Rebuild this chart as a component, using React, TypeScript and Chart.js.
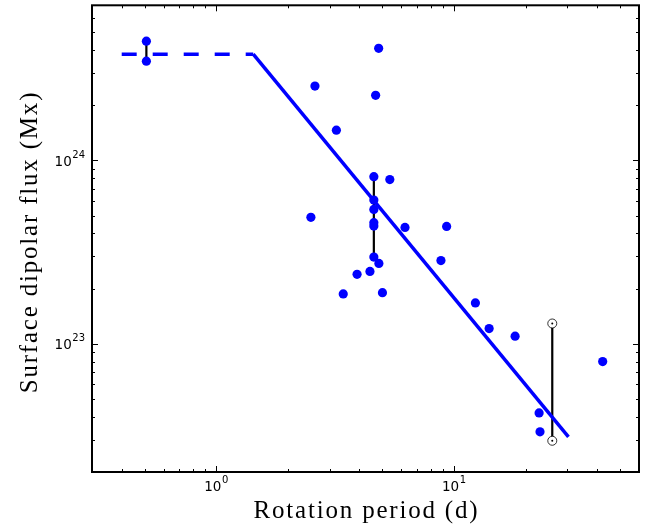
import { useEffect, useRef } from "react";
import { Chart, registerables } from "chart.js";

Chart.register(...registerables);

// Stars: rotation period (d) vs surface dipolar flux (Mx)
const periods = [
  0.508, 0.508, 4.82, 4.68, 2.6, 3.2, 4.6, 5.37, 4.6, 4.6, 4.6, 4.6, 2.5, 6.22,
  9.31, 4.6, 4.83, 8.81, 4.43, 3.91, 3.42, 5.0, 12.3, 14.05, 18.07, 42.2, 22.8, 23.0,
];
const fluxes = [
  4.46e24, 3.47e24, 4.08e24, 2.26e24, 2.54e24, 1.46e24, 8.15e23, 7.85e23, 6.07e23,
  5.4e23, 4.57e23, 4.38e23, 4.89e23, 4.31e23, 4.36e23, 2.97e23, 2.74e23, 2.84e23,
  2.48e23, 2.39e23, 1.87e23, 1.9e23, 1.67e23, 1.21e23, 1.1e23, 8.0e22, 4.2e22, 3.31e22,
];

// Variability ranges (vertical black bars)
const barPeriods = [0.508, 4.6, 25.9];
const barLow = [3.47e24, 2.97e23, 2.96e22];
const barHigh = [4.46e24, 8.15e23, 1.29e23];

// Sun (cycle min / max)
const sunPeriods = [25.9, 25.9];
const sunFluxes = [1.29e23, 2.96e22];

// Saturated branch (dashed) and power-law fit (solid)
const satPeriods = [0.4, 1.43];
const satFluxes = [3.79e24, 3.79e24];
const fitPeriods = [1.43, 30.3];
const fitFluxes = [3.79e24, 3.11e22];

const xTickValues = [1, 10];
const xTickExponents = ["0", "1"];
const yTickValues = [1e23, 1e24];
const yTickExponents = ["23", "24"];
const tickBase = "10";

const xTitle = "Rotation period (d)";
const yTitle = "Surface dipolar flux (Mx)";

const xMin = 0.3;
const xMax = 60;
const yMin = 2e22;
const yMax = 7e24;

const BASE_FONT = "13.5px 'DejaVu Sans'";
const EXP_FONT = "10px 'DejaVu Sans'";
const TITLE_FONT = "25px 'Liberation Serif'";

const frameTicks = {
  id: "frameTicks",
  afterDatasetsDraw(chart: any) {
    const { ctx, chartArea } = chart;
    const { left, right, top, bottom } = chartArea;
    const xs = chart.scales.x;
    const ys = chart.scales.y;
    ctx.save();
    ctx.strokeStyle = "#000";
    ctx.lineWidth = 1;
    const collect = (min: number, max: number) => {
      const out: { v: number; major: boolean }[] = [];
      for (let d = Math.floor(Math.log10(min)); d <= Math.ceil(Math.log10(max)); d++) {
        for (let m = 1; m <= 9; m++) {
          const v = m * Math.pow(10, d);
          if (v >= min * 1.0001 && v <= max * 0.9999) out.push({ v, major: m === 1 });
        }
      }
      return out;
    };
    ctx.beginPath();
    for (const t of collect(xMin, xMax)) {
      const px = Math.round(xs.getPixelForValue(t.v)) + 0.5;
      const len = t.major ? 6 : 3;
      ctx.moveTo(px, bottom);
      ctx.lineTo(px, bottom - len);
      ctx.moveTo(px, top);
      ctx.lineTo(px, top + len);
    }
    for (const t of collect(yMin, yMax)) {
      const py = Math.round(ys.getPixelForValue(t.v)) + 0.5;
      const len = t.major ? 6 : 3;
      ctx.moveTo(left, py);
      ctx.lineTo(left + len, py);
      ctx.moveTo(right, py);
      ctx.lineTo(right - len, py);
    }
    ctx.stroke();
    ctx.lineWidth = 2;
    ctx.strokeRect(left, top, right - left, bottom - top);

    // tick labels: "10" with raised exponent
    ctx.fillStyle = "#000";
    ctx.textBaseline = "alphabetic";
    ctx.textAlign = "left";
    const drawLabel = (exp: string, anchorX: number, baseY: number, mode: "center" | "right") => {
      ctx.font = BASE_FONT;
      const wb = ctx.measureText(tickBase).width;
      ctx.font = EXP_FONT;
      const we = ctx.measureText(exp).width;
      const total = wb + we + 0.5;
      const x0 = mode === "center" ? anchorX - total / 2 : anchorX - total;
      ctx.font = BASE_FONT;
      ctx.fillText(tickBase, x0, baseY);
      ctx.font = EXP_FONT;
      ctx.fillText(exp, x0 + wb + 0.5, baseY - 8);
    };
    xTickValues.forEach((v, i) => {
      drawLabel(xTickExponents[i], xs.getPixelForValue(v), bottom + 19, "center");
    });
    yTickValues.forEach((v, i) => {
      drawLabel(yTickExponents[i], left - 7, ys.getPixelForValue(v) + 5.5, "right");
    });

    // axis titles
    ctx.font = TITLE_FONT;
    (ctx as any).letterSpacing = "1.8px";
    ctx.textAlign = "center";
    ctx.textBaseline = "middle";
    ctx.fillText(xTitle, (left + right) / 2 + 1, bottom + 39);
    ctx.translate(30, 242);
    ctx.rotate(-Math.PI / 2);
    ctx.fillText(yTitle, 0, 0);
    ctx.restore();
  },
};

export default function App() {
  const ref = useRef<HTMLCanvasElement | null>(null);
  useEffect(() => {
    document.body.style.margin = "0";
    const canvas = ref.current;
    if (!canvas) return;
    const toPts = (xs: number[], ys: number[]) => xs.map((x, i) => ({ x, y: ys[i] }));
    const barSets = barPeriods.map((p, i) => ({
      type: "line" as const,
      data: [
        { x: p, y: barLow[i] },
        { x: p, y: barHigh[i] },
      ],
      borderColor: "#000",
      borderWidth: 2.2,
      pointRadius: 0,
      showLine: true,
      order: 10,
    }));
    const zeroPad = (s: any) => {
      s.paddingTop = 0;
      s.paddingBottom = 0;
      s.paddingLeft = 0;
      s.paddingRight = 0;
    };
    const chart = new Chart(canvas, {
      type: "scatter",
      data: {
        datasets: [
          {
            data: toPts(sunPeriods, sunFluxes),
            pointRadius: 1,
            pointBackgroundColor: "#000",
            pointBorderWidth: 0,
            order: 0,
          },
          {
            data: toPts(sunPeriods, sunFluxes),
            pointRadius: 4.5,
            pointBackgroundColor: "#fff",
            pointBorderColor: "#000",
            pointBorderWidth: 0.8,
            order: 1,
          },
          {
            data: toPts(periods, fluxes),
            pointRadius: 4.6,
            pointBackgroundColor: "#0000ff",
            pointBorderWidth: 0,
            order: 2,
          },
          {
            type: "line",
            data: toPts(fitPeriods, fitFluxes),
            borderColor: "#0000ff",
            borderWidth: 3.5,
            pointRadius: 0,
            showLine: true,
            order: 3,
          },
          {
            type: "line",
            data: toPts(satPeriods, satFluxes),
            borderColor: "#0000ff",
            borderWidth: 3.5,
            borderDash: [15, 16],
            pointRadius: 0,
            showLine: true,
            order: 4,
          },
          ...barSets,
        ] as any,
      },
      options: {
        responsive: false,
        animation: false,
        layout: { padding: { left: 0, top: 5, right: 21, bottom: 0 } },
        plugins: { legend: { display: false }, tooltip: { enabled: false } },
        scales: {
          x: {
            type: "logarithmic",
            min: xMin,
            max: xMax,
            grid: { display: false, drawTicks: false },
            border: { display: false },
            ticks: { display: false },
            afterFit: (s: any) => {
              s.height = 60;
              zeroPad(s);
            },
          },
          y: {
            type: "logarithmic",
            min: yMin,
            max: yMax,
            grid: { display: false, drawTicks: false },
            border: { display: false },
            ticks: { display: false },
            afterFit: (s: any) => {
              s.width = 92;
              zeroPad(s);
            },
          },
        },
      },
      plugins: [frameTicks],
    });
    return () => chart.destroy();
  }, []);
  return <canvas ref={ref} width={660} height={532} style={{ display: "block" }} />;
}
